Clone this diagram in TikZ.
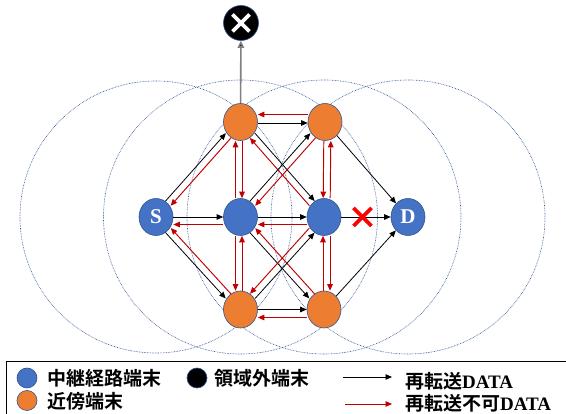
\documentclass[tikz,border=0pt]{standalone}
\usepackage{fontspec}
\setmainfont{Liberation Serif}
\newfontfamily\jp{Noto Sans CJK JP}[BoldFont={Noto Sans CJK JP Bold}]
\usetikzlibrary{arrows.meta,shapes.geometric,calc}
\definecolor{nblue}{HTML}{4472C4}
\definecolor{norange}{HTML}{ED7D31}
\definecolor{nedge}{HTML}{2F528F}
\definecolor{rdc}{HTML}{C00000}
\definecolor{rngc}{HTML}{2F5597}
\begin{document}
\begin{tikzpicture}[x=1pt,y=-1pt,
 nd/.style={ellipse, draw=nedge, line width=0.6pt, minimum width=34pt, minimum height=37pt, inner sep=0pt},
 bnd/.style={nd, fill=nblue},
 ond/.style={nd, fill=norange},
 lbl/.style={text=white, font=\fontsize{21}{21}\selectfont\bfseries},
 blk/.style={draw=black, line width=0.8pt, -{Triangle[length=6.5pt,width=5.5pt]}},
 rda/.style={draw=rdc, line width=0.95pt, -{Triangle[length=6.5pt,width=5.5pt]}},
 gra/.style={draw=black!50, line width=1.6pt, -{Triangle[length=7pt,width=6.5pt,fill=black]}},
 rng/.style={draw=rngc, line width=0.6pt, dash pattern=on 0.7pt off 0.9pt},
 legdot/.style={circle, draw=nedge, line width=0.6pt, minimum size=20pt, inner sep=0pt},
 legtxt/.style={anchor=base west, inner sep=0pt, font=\fontsize{19}{19}\selectfont\bfseries},
 xmk/.style={line width=3.8pt}
]
\path[use as bounding box, clip] (0,0) rectangle (566,414);
\fill[white] (0,0) rectangle (566,414);

% positions
\coordinate (pS) at (156,217);
\coordinate (pB1) at (240.5,217);
\coordinate (pB2) at (324,217);
\coordinate (pD) at (408,217);
\coordinate (pTL) at (240.5,122);
\coordinate (pTR) at (325,122);
\coordinate (pBL) at (240.5,309.5);
\coordinate (pBR) at (324,309.5);

% range circles
\draw[rng] (pS) circle[radius=136pt];
\draw[rng] (pB1) circle[radius=137pt];
\draw[rng] (pB2) circle[radius=137pt];
\draw[rng] (pD) circle[radius=137pt];

% nodes
\node[bnd] (S) at (pS) {};
\node[lbl] at (S) {S};
\node[bnd] (B1) at (pB1) {};
\node[bnd] (B2) at (pB2) {};
\node[bnd] (D) at (pD) {};
\node[lbl] at (D) {D};
\node[ond] (TL) at (pTL) {};
\node[ond] (TR) at (pTR) {};
\node[ond] (BL) at (pBL) {};
\node[ond] (BR) at (pBR) {};
\node[circle, fill=black, draw=nedge, line width=0.6pt, minimum size=35pt, inner sep=0pt] (X) at (241,23) {};
\draw[white, xmk] ($(X)+(-8.5,-8.5)$) -- ($(X)+(8.5,8.5)$);
\draw[white, xmk] ($(X)+(-8.5,8.5)$) -- ($(X)+(8.5,-8.5)$);

% out of area
\draw[gra] (TL) -- (X);

% S links
\draw[blk, transform canvas={shift={(-2.6,-2.3)}}] (S) -- (TL);
\draw[rda, transform canvas={shift={(2.6,2.3)}}] (TL) -- (S);
\draw[blk, transform canvas={shift={(-2.6,2.3)}}] (S) -- (BL);
\draw[rda, transform canvas={shift={(2.6,-2.3)}}] (BL) -- (S);
\draw[blk] (S) -- (B1);
\draw[rda, transform canvas={shift={(0,7.5)}}] (B1) -- (S);

% horizontal
\draw[blk] (B1) -- (B2);
\draw[rda, transform canvas={shift={(0,7.5)}}] (B2) -- (B1);
\draw[blk] (B2) -- (D);
\draw[blk, transform canvas={shift={(0,1)}}] (TL) -- (TR);
\draw[rda, transform canvas={shift={(0,-7.5)}}] (TR) -- (TL);
\draw[blk] (BL) -- (BR);
\draw[rda, transform canvas={shift={(0,8)}}] (BR) -- (BL);

% vertical
\draw[rda, transform canvas={shift={(-5,0)}}] (B1) -- (TL);
\draw[rda, transform canvas={shift={(1.5,0)}}] (TL) -- (B1);
\draw[rda, transform canvas={shift={(-5,0)}}] (B1) -- (BL);
\draw[rda, transform canvas={shift={(1.5,0)}}] (BL) -- (B1);
\draw[rda, transform canvas={shift={(-1,0)}}] (TR) -- (B2);
\draw[rda, transform canvas={shift={(6,0)}}] (B2) -- (TR);
\draw[rda, transform canvas={shift={(-1,0)}}] (BR) -- (B2);
\draw[rda, transform canvas={shift={(6,0)}}] (B2) -- (BR);

% diagonals
\draw[blk, transform canvas={shift={(2.6,-2.3)}}] (TL) -- (B2);
\draw[rda, transform canvas={shift={(-2.6,2.3)}}] (B2) -- (TL);
\draw[blk, transform canvas={shift={(-2.6,-2.3)}}] (B1) -- (TR);
\draw[rda, transform canvas={shift={(2.6,2.3)}}] (TR) -- (B1);
\draw[blk, transform canvas={shift={(-2.6,2.3)}}] (B1) -- (BR);
\draw[rda, transform canvas={shift={(2.6,-2.3)}}] (BR) -- (B1);
\draw[blk, transform canvas={shift={(2.6,2.3)}}] (BL) -- (B2);
\draw[rda, transform canvas={shift={(-2.6,-2.3)}}] (B2) -- (BL);
\draw[blk] (TR) -- (D);
\draw[blk] (BR) -- (D);

% red X
\coordinate (xm) at (362.5,217);
\draw[red, xmk] ($(xm)+(-9,-9)$) -- ($(xm)+(9,9)$);
\draw[red, xmk] ($(xm)+(-9,9)$) -- ($(xm)+(9,-9)$);

% legend
\draw[line width=0.8pt] (6,361) rectangle (620,460);
\node[legdot, fill=nblue] (L1) at (27,378) {};
\node[legtxt] (T1) at (47,386) {\jp 中継経路端末};
\node[legdot, fill=black] (L2) at (197,378) {};
\node[legtxt] (T2) at (214,386) {\jp 領域外端末};
\node[legdot, fill=norange] (L3) at (27,400.5) {};
\node[legtxt] (T3) at (47,408.5) {\jp 近傍端末};
\coordinate (a1s) at (343,377);
\coordinate (a1e) at (392,377);
\draw[blk] (a1s) -- (a1e);
\node[legtxt] (T4) at (405,389) {{\jp 再転送}DATA};
\coordinate (a2s) at (345,404);
\coordinate (a2e) at (392,404);
\draw[rda] (a2s) -- (a2e);
\node[legtxt] (T5) at (405,410.5) {{\jp 再転送不可}DATA};
\end{tikzpicture}
\end{document}
